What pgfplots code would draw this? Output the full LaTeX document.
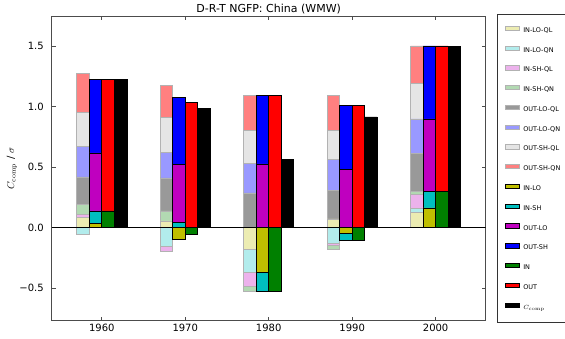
\documentclass[border=0pt]{standalone}
\usepackage[no-math]{fontspec}
\setmainfont{DejaVu Sans}
\usepackage{pgfplots}
\pgfplotsset{compat=1.18}
\usepackage{pgfplotstable}

\definecolor{cinloql}{RGB}{236,236,178}
\definecolor{cinloqn}{RGB}{178,236,236}
\definecolor{cinshql}{RGB}{236,178,236}
\definecolor{cinshqn}{RGB}{178,217,178}
\definecolor{coutloql}{RGB}{153,153,153}
\definecolor{coutloqn}{RGB}{153,153,255}
\definecolor{coutshql}{RGB}{229,229,229}
\definecolor{coutshqn}{RGB}{255,128,128}
\definecolor{cinlo}{RGB}{191,191,0}
\definecolor{cinsh}{RGB}{0,191,191}
\definecolor{coutlo}{RGB}{191,0,191}
\definecolor{coutsh}{RGB}{0,0,255}
\definecolor{cin}{RGB}{0,128,0}
\definecolor{cout}{RGB}{255,0,0}

\pgfplotstableread{
x inloql inloqn inshql inshqn outloql outloqn outshql outshqn
1957.75 0.083 -0.055 0.025 0.085 0.226 0.253 0.278 0.328
1967.75 0.055 -0.154 -0.044 0.083 0.273 0.209 0.289 0.267
1977.75 -0.182 -0.187 -0.113 -0.047 0.287 0.242 0.275 0.289
1987.75 0.072 -0.132 -0.017 -0.033 0.237 0.253 0.242 0.292
1997.75 0.124 0.039 0.113 0.022 0.314 0.287 0.292 0.311
}\tqual

\pgfplotstableread{
x inlo insh outlo outsh
1959.25 0.033 0.105 0.479 0.609
1969.25 -0.096 0.041 0.479 0.556
1979.25 -0.369 -0.160 0.526 0.567
1989.25 -0.050 -0.058 0.482 0.529
1999.25 0.163 0.135 0.601 0.603
}\tloc

\pgfplotstableread{
x in out
1960.75 0.138 1.088
1970.75 -0.055 1.033
1980.75 -0.529 1.094
1990.75 -0.107 1.013
2000.75 0.298 1.204
}\tio

\pgfplotstableread{
x ccomp
1962.25 1.226
1972.25 0.983
1982.25 0.565
1992.25 0.915
2002.25 1.501
}\tcc

\tikzset{
  faded/.style={draw=black!30, line width=0.5pt},
  strong/.style={draw=black, line width=0.6pt},
}
\pgfplotsset{
  base/.style={scale only axis, width=434pt, height=304.7pt,
    xmin=1954, xmax=2006, ymin=-0.77, ymax=1.75},
  ov/.style={base, hide axis},
  st/.style={ov, ybar stacked, bar width=1.5},
  mylegend/.style={legend image code/.code={\draw[##1] (0pt,0.2pt) rectangle (14pt,4.5pt);}},
}

\begin{document}
\begin{tikzpicture}
% main axis: frame, ticks, labels, legend
\begin{axis}[base,
  xtick={1960,1970,1980,1990,2000},
  xticklabels={1960,1970,1980,1990,2000},
  ytick={-0.5,0,0.5,1,1.5},
  yticklabels={−0.5,0.0,0.5,1.0,1.5},
  tick label style={font=\fontsize{10}{12}\selectfont},
  yticklabel style={xshift=-4.4pt},
  major tick length=4pt,
  tick style={black!70, line width=0.6pt},
  axis line style={black!70, line width=0.8pt},
  title={D-R-T NGFP: China (WMW)},
  every axis title shift=0pt,
  title style={font=\fontsize{11}{13}\selectfont, at={(0.5,1)}, anchor=base, yshift=3.5pt},
  ylabel={$C_{\mathrm{comp}}$ / $\sigma$},
  ylabel style={at={(axis description cs:-0.0915,0.5)}, anchor=center, font=\fontsize{10}{12}\selectfont},
  legend cell align=left,
  legend style={at={(1.0253,1.0072)}, anchor=north west, draw=black!80, line width=0.6pt,
    fill=white, font=\fontsize{6.5}{7}\selectfont, inner xsep=8pt, inner ysep=11.7pt,
    row sep=12.0pt, column sep=3.7pt,
    nodes={inner sep=0pt, text height=4.8pt, text depth=1.2pt, anchor=west}},
]
\addlegendimage{mylegend, fill=cinloql, faded}\addlegendentry{IN-LO-QL}
\addlegendimage{mylegend, fill=cinloqn, faded}\addlegendentry{IN-LO-QN}
\addlegendimage{mylegend, fill=cinshql, faded}\addlegendentry{IN-SH-QL}
\addlegendimage{mylegend, fill=cinshqn, faded}\addlegendentry{IN-SH-QN}
\addlegendimage{mylegend, fill=coutloql, faded}\addlegendentry{OUT-LO-QL}
\addlegendimage{mylegend, fill=coutloqn, faded}\addlegendentry{OUT-LO-QN}
\addlegendimage{mylegend, fill=coutshql, faded}\addlegendentry{OUT-SH-QL}
\addlegendimage{mylegend, fill=coutshqn, faded}\addlegendentry{OUT-SH-QN}
\addlegendimage{mylegend, fill=cinlo, strong}\addlegendentry{IN-LO}
\addlegendimage{mylegend, fill=cinsh, strong}\addlegendentry{IN-SH}
\addlegendimage{mylegend, fill=coutlo, strong}\addlegendentry{OUT-LO}
\addlegendimage{mylegend, fill=coutsh, strong}\addlegendentry{OUT-SH}
\addlegendimage{mylegend, fill=cin, strong}\addlegendentry{IN}
\addlegendimage{mylegend, fill=cout, strong}\addlegendentry{OUT}
\addlegendimage{mylegend, fill=black, strong}\addlegendentry{$C_{\mathrm{comp}}$}
\end{axis}

% group 1: QL/QN components, positive parts
\begin{axis}[st]
\addplot[fill=cinloql, faded] table[x=x, y expr={max(\thisrow{inloql},0)}] {\tqual};
\addplot[fill=cinloqn, faded] table[x=x, y expr={max(\thisrow{inloqn},0)}] {\tqual};
\addplot[fill=cinshql, faded] table[x=x, y expr={max(\thisrow{inshql},0)}] {\tqual};
\addplot[fill=cinshqn, faded] table[x=x, y expr={max(\thisrow{inshqn},0)}] {\tqual};
\addplot[fill=coutloql, faded] table[x=x, y expr={max(\thisrow{outloql},0)}] {\tqual};
\addplot[fill=coutloqn, faded] table[x=x, y expr={max(\thisrow{outloqn},0)}] {\tqual};
\addplot[fill=coutshql, faded] table[x=x, y expr={max(\thisrow{outshql},0)}] {\tqual};
\addplot[fill=coutshqn, faded] table[x=x, y expr={max(\thisrow{outshqn},0)}] {\tqual};
\end{axis}
% group 1: negative parts
\begin{axis}[st]
\addplot[fill=cinloql, faded] table[x=x, y expr={min(\thisrow{inloql},0)}] {\tqual};
\addplot[fill=cinloqn, faded] table[x=x, y expr={min(\thisrow{inloqn},0)}] {\tqual};
\addplot[fill=cinshql, faded] table[x=x, y expr={min(\thisrow{inshql},0)}] {\tqual};
\addplot[fill=cinshqn, faded] table[x=x, y expr={min(\thisrow{inshqn},0)}] {\tqual};
\addplot[fill=coutloql, faded] table[x=x, y expr={min(\thisrow{outloql},0)}] {\tqual};
\addplot[fill=coutloqn, faded] table[x=x, y expr={min(\thisrow{outloqn},0)}] {\tqual};
\addplot[fill=coutshql, faded] table[x=x, y expr={min(\thisrow{outshql},0)}] {\tqual};
\addplot[fill=coutshqn, faded] table[x=x, y expr={min(\thisrow{outshqn},0)}] {\tqual};
\end{axis}

% group 2: LO/SH
\begin{axis}[st]
\addplot[fill=cinlo, strong] table[x=x, y expr={max(\thisrow{inlo},0)}] {\tloc};
\addplot[fill=cinsh, strong] table[x=x, y expr={max(\thisrow{insh},0)}] {\tloc};
\addplot[fill=coutlo, strong] table[x=x, y expr={max(\thisrow{outlo},0)}] {\tloc};
\addplot[fill=coutsh, strong] table[x=x, y expr={max(\thisrow{outsh},0)}] {\tloc};
\end{axis}
\begin{axis}[st]
\addplot[fill=cinlo, strong] table[x=x, y expr={min(\thisrow{inlo},0)}] {\tloc};
\addplot[fill=cinsh, strong] table[x=x, y expr={min(\thisrow{insh},0)}] {\tloc};
\addplot[fill=coutlo, strong] table[x=x, y expr={min(\thisrow{outlo},0)}] {\tloc};
\addplot[fill=coutsh, strong] table[x=x, y expr={min(\thisrow{outsh},0)}] {\tloc};
\end{axis}

% group 3: IN/OUT
\begin{axis}[st]
\addplot[fill=cin, strong] table[x=x, y expr={max(\thisrow{in},0)}] {\tio};
\addplot[fill=cout, strong] table[x=x, y expr={max(\thisrow{out},0)}] {\tio};
\end{axis}
\begin{axis}[st]
\addplot[fill=cin, strong] table[x=x, y expr={min(\thisrow{in},0)}] {\tio};
\addplot[fill=cout, strong] table[x=x, y expr={min(\thisrow{out},0)}] {\tio};
\end{axis}

% group 4: C_comp
\begin{axis}[st]
\addplot[fill=black, strong] table[x=x, y=ccomp] {\tcc};
\end{axis}

% zero line
\begin{axis}[ov]
\addplot[black, line width=1.2pt] coordinates {(1954,0) (2006,0)};
\end{axis}

\pgfresetboundingbox
\path[use as bounding box] (-51.7pt,-17.3pt) rectangle (513.3pt,320.7pt);
\end{tikzpicture}
\end{document}
